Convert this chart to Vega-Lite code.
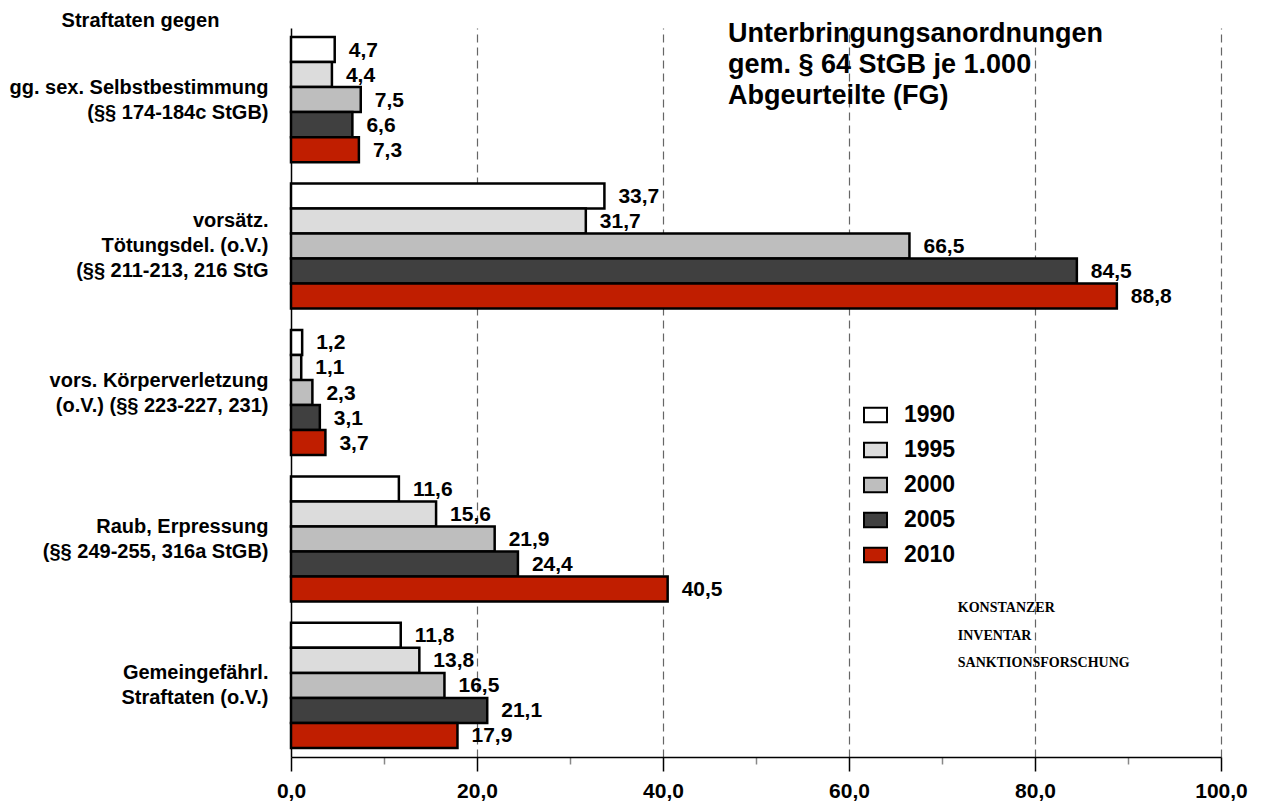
{
  "$schema": "https://vega.github.io/schema/vega-lite/v6.json",
  "width": 930,
  "height": 729,
  "autosize": {"type": "none"},
  "padding": {"left": 291, "top": 28, "right": 48, "bottom": 48},
  "background": "white",
  "config": {
    "locale": {"number": {"decimal": ",", "thousands": ".", "grouping": [3], "currency": ["", " €"]}},
    "font": "Liberation Sans",
    "view": {"stroke": null}
  },
  "title": {
    "text": ["Unterbringungsanordnungen", "gem. § 64 StGB je 1.000", "Abgeurteilte (FG)"],
    "anchor": "start",
    "frame": "group",
    "orient": "top",
    "dx": 437,
    "offset": -100,
    "fontSize": 27,
    "fontWeight": "bold",
    "lineHeight": 31,
    "color": "black",
    "font": "Liberation Sans"
  },
  "datasets": {
    "bars": [
      {"cat": "gg. sex. Selbstbestimmung|(§§ 174-184c StGB)", "year": "1990", "value": 4.7},
      {"cat": "gg. sex. Selbstbestimmung|(§§ 174-184c StGB)", "year": "1995", "value": 4.4},
      {"cat": "gg. sex. Selbstbestimmung|(§§ 174-184c StGB)", "year": "2000", "value": 7.5},
      {"cat": "gg. sex. Selbstbestimmung|(§§ 174-184c StGB)", "year": "2005", "value": 6.6},
      {"cat": "gg. sex. Selbstbestimmung|(§§ 174-184c StGB)", "year": "2010", "value": 7.3},
      {"cat": "vorsätz.|Tötungsdel. (o.V.)|(§§ 211-213, 216 StG", "year": "1990", "value": 33.7},
      {"cat": "vorsätz.|Tötungsdel. (o.V.)|(§§ 211-213, 216 StG", "year": "1995", "value": 31.7},
      {"cat": "vorsätz.|Tötungsdel. (o.V.)|(§§ 211-213, 216 StG", "year": "2000", "value": 66.5},
      {"cat": "vorsätz.|Tötungsdel. (o.V.)|(§§ 211-213, 216 StG", "year": "2005", "value": 84.5},
      {"cat": "vorsätz.|Tötungsdel. (o.V.)|(§§ 211-213, 216 StG", "year": "2010", "value": 88.8},
      {"cat": "vors. Körperverletzung|(o.V.) (§§ 223-227, 231)", "year": "1990", "value": 1.2},
      {"cat": "vors. Körperverletzung|(o.V.) (§§ 223-227, 231)", "year": "1995", "value": 1.1},
      {"cat": "vors. Körperverletzung|(o.V.) (§§ 223-227, 231)", "year": "2000", "value": 2.3},
      {"cat": "vors. Körperverletzung|(o.V.) (§§ 223-227, 231)", "year": "2005", "value": 3.1},
      {"cat": "vors. Körperverletzung|(o.V.) (§§ 223-227, 231)", "year": "2010", "value": 3.7},
      {"cat": "Raub, Erpressung|(§§ 249-255, 316a StGB)", "year": "1990", "value": 11.6},
      {"cat": "Raub, Erpressung|(§§ 249-255, 316a StGB)", "year": "1995", "value": 15.6},
      {"cat": "Raub, Erpressung|(§§ 249-255, 316a StGB)", "year": "2000", "value": 21.9},
      {"cat": "Raub, Erpressung|(§§ 249-255, 316a StGB)", "year": "2005", "value": 24.4},
      {"cat": "Raub, Erpressung|(§§ 249-255, 316a StGB)", "year": "2010", "value": 40.5},
      {"cat": "Gemeingefährl.|Straftaten (o.V.)", "year": "1990", "value": 11.8},
      {"cat": "Gemeingefährl.|Straftaten (o.V.)", "year": "1995", "value": 13.8},
      {"cat": "Gemeingefährl.|Straftaten (o.V.)", "year": "2000", "value": 16.5},
      {"cat": "Gemeingefährl.|Straftaten (o.V.)", "year": "2005", "value": 21.1},
      {"cat": "Gemeingefährl.|Straftaten (o.V.)", "year": "2010", "value": 17.9}
    ],
    "logo": [
      {"cat": "Gemeingefährl.|Straftaten (o.V.)", "x": 71.7, "label": "KONSTANZER\nINVENTAR\nSANKTIONSFORSCHUNG"}
    ]
  },
  "layer": [
    {
      "data": {"name": "bars"},
      "mark": {"type": "bar", "stroke": "black", "strokeWidth": 2.5},
      "encoding": {
        "y": {
          "field": "cat", "type": "nominal",
          "sort": ["gg. sex. Selbstbestimmung|(§§ 174-184c StGB)", "vorsätz.|Tötungsdel. (o.V.)|(§§ 211-213, 216 StG", "vors. Körperverletzung|(o.V.) (§§ 223-227, 231)", "Raub, Erpressung|(§§ 249-255, 316a StGB)", "Gemeingefährl.|Straftaten (o.V.)"],
          "scale": {"paddingInner": 0.146, "paddingOuter": 0.062},
          "axis": {
            "title": "Straftaten gegen",
            "titleAngle": 0, "titleAlign": "center", "titleBaseline": "middle",
            "titleX": -151, "titleY": -8,
            "titleFontSize": 20, "titleFontWeight": "bold", "titleColor": "black",
            "labelExpr": "split(datum.label, '|')",
            "labelFontSize": 20, "labelFontWeight": "bold", "labelColor": "black",
            "labelLineHeight": 25, "labelPadding": 23, "labelLimit": 400,
            "labelOffset": {"condition": {"test": "indexof(datum.value, 'vorsätz') >= 0", "value": -25}, "value": -12},
            "ticks": false, "grid": false,
            "domainColor": "black", "domainWidth": 1.5
          }
        },
        "yOffset": {"field": "year", "type": "nominal", "sort": ["1990", "1995", "2000", "2005", "2010"]},
        "x": {
          "field": "value", "type": "quantitative",
          "scale": {"domain": [0, 100], "nice": false},
          "axis": {
            "title": null,
            "values": [0, 10, 20, 30, 40, 50, 60, 70, 80, 90, 100],
            "format": ".1f",
            "labelExpr": "datum.value % 20 === 0 ? datum.label : ''",
            "labelFontSize": 21, "labelFontWeight": "bold", "labelColor": "black",
            "labelPadding": 9, "labelOverlap": false, "labelFlush": false,
            "tickSize": {"condition": {"test": "datum.value % 20 === 0", "value": 14}, "value": 7},
            "tickColor": {"condition": {"test": "datum.value % 20 === 0", "value": "black"}, "value": "#888888"},
            "tickWidth": 1.5,
            "domainColor": "black", "domainWidth": 1.5,
            "grid": true, "gridColor": "#666666", "gridDash": [8, 5], "gridWidth": 1.2,
            "gridOpacity": {"condition": {"test": "datum.value % 20 === 0 && datum.value > 0", "value": 1}, "value": 0}
          }
        },
        "color": {
          "field": "year", "type": "nominal",
          "scale": {"domain": ["1990", "1995", "2000", "2005", "2010"], "range": ["#ffffff", "#dcdcdc", "#bebebe", "#404040", "#c01e00"]},
          "legend": {
            "title": null, "orient": "none", "legendX": 572, "legendY": 374.5,
            "symbolType": "M-1,-0.62H1V0.62H-1Z", "symbolSize": 529,
            "symbolStrokeColor": "black", "symbolStrokeWidth": 2, "symbolOpacity": 1,
            "labelFontSize": 23, "labelFontWeight": "bold", "labelColor": "black",
            "labelOffset": 16, "rowPadding": 10, "padding": 0
          }
        }
      }
    },
    {
      "data": {"name": "bars"},
      "mark": {"type": "text", "align": "left", "baseline": "middle", "dx": 14, "dy": 1, "fontSize": 21, "fontWeight": "bold", "color": "black"},
      "encoding": {
        "y": {"field": "cat", "type": "nominal", "sort": ["gg. sex. Selbstbestimmung|(§§ 174-184c StGB)", "vorsätz.|Tötungsdel. (o.V.)|(§§ 211-213, 216 StG", "vors. Körperverletzung|(o.V.) (§§ 223-227, 231)", "Raub, Erpressung|(§§ 249-255, 316a StGB)", "Gemeingefährl.|Straftaten (o.V.)"]},
        "yOffset": {"field": "year", "type": "nominal", "sort": ["1990", "1995", "2000", "2005", "2010"]},
        "x": {"field": "value", "type": "quantitative"},
        "text": {"field": "value", "type": "quantitative", "format": ".1f"}
      }
    },
    {
      "data": {"name": "logo"},
      "mark": {"type": "text", "align": "left", "baseline": "middle", "lineBreak": "\n", "lineHeight": 27.5, "dy": -77, "fontSize": 14, "fontWeight": "bold", "color": "black", "font": "Liberation Serif"},
      "encoding": {
        "y": {"field": "cat", "type": "nominal", "sort": ["gg. sex. Selbstbestimmung|(§§ 174-184c StGB)", "vorsätz.|Tötungsdel. (o.V.)|(§§ 211-213, 216 StG", "vors. Körperverletzung|(o.V.) (§§ 223-227, 231)", "Raub, Erpressung|(§§ 249-255, 316a StGB)", "Gemeingefährl.|Straftaten (o.V.)"]},
        "x": {"field": "x", "type": "quantitative"},
        "text": {"field": "label"}
      }
    }
  ]
}
